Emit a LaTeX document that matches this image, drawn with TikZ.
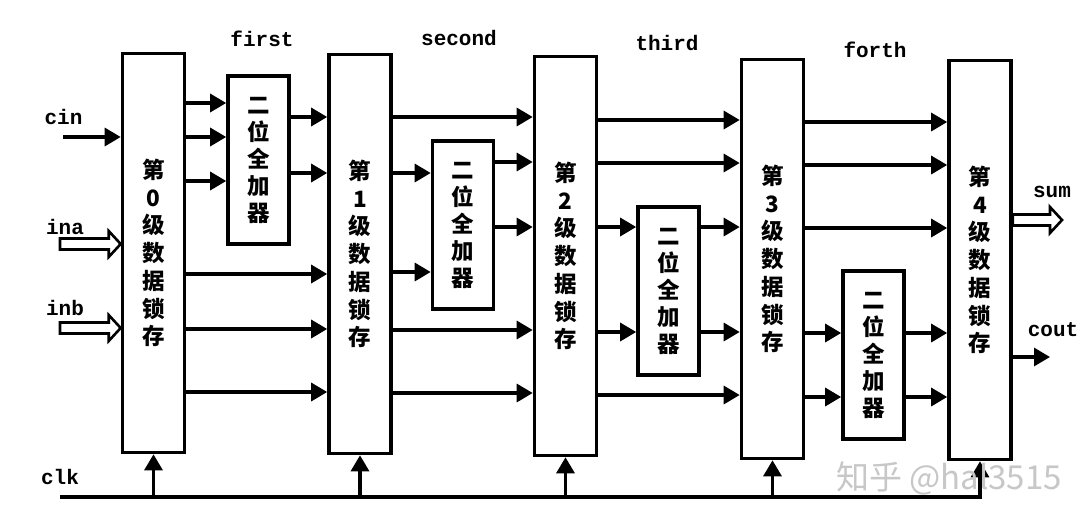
\documentclass[tikz,border=0pt]{standalone}
\usepackage{fontspec}
\newfontfamily\cjk{Noto Sans CJK SC}
\newfontfamily\lab{Liberation Mono}
\usetikzlibrary{arrows.meta,calc}
\begin{document}
\begin{tikzpicture}[x=1pt,y=-1pt,
  line width=3.2pt,
  latch/.style={draw, line width=3.6pt, minimum width=62pt, minimum height=399pt, inner sep=0pt, align=center,
    font=\cjk\bfseries\fontsize{22.5}{27.7}\selectfont},
  adder/.style={draw, line width=3.6pt, minimum width=61pt, minimum height=168pt, inner sep=0pt, align=center,
    font=\cjk\bfseries\fontsize{22.5}{27}\selectfont},
  lbl/.style={font=\lab\bfseries\fontsize{21}{24}\selectfont, inner sep=0pt},
  sig/.style={-{Triangle[length=16pt,width=18pt]}},
  hollow/.style={line width=2.6pt, line join=miter}
]
\useasboundingbox (0,0) rectangle (1092,523);
\fill[white] (0,0) rectangle (1092,523);

% latches
\node[latch] (L0) at (153.5,253) {第\\0\\级\\数\\据\\锁\\存};
\node[latch] (L1) at (360,254) {第\\1\\级\\数\\据\\锁\\存};
\node[latch] (L2) at (565.5,256) {第\\2\\级\\数\\据\\锁\\存};
\node[latch] (L3) at (772.5,259) {第\\3\\级\\数\\据\\锁\\存};
\node[latch] (L4) at (980,260) {第\\4\\级\\数\\据\\锁\\存};

% adders
\node[adder] (A1) at (258.5,160) {二\\位\\全\\加\\器};
\node[adder] (A2) at (463,225) {二\\位\\全\\加\\器};
\node[adder] (A3) at (668.5,291) {二\\位\\全\\加\\器};
\node[adder] (A4) at (873.5,355) {二\\位\\全\\加\\器};

% stage labels
\node[lbl] (first) at (262,39) {first};
\node[lbl] (second) at (459,38) {second};
\node[lbl] (third) at (667,43) {third};
\node[lbl] (forth) at (875,50) {forth};

% stage 0 -> 1
\foreach \y in {103,137,181} \draw[sig] (L0.east |- 0,\y) -- (A1.west |- 0,\y);
\foreach \y in {117,173} \draw[sig] (A1.east |- 0,\y) -- (L1.west |- 0,\y);
\foreach \y in {274,329,392} \draw[sig] (L0.east |- 0,\y) -- (L1.west |- 0,\y);

% stage 1 -> 2
\foreach \y in {117,330,393} \draw[sig] (L1.east |- 0,\y) -- (L2.west |- 0,\y);
\foreach \y in {173,272} \draw[sig] (L1.east |- 0,\y) -- (A2.west |- 0,\y);
\foreach \y in {162,227} \draw[sig] (A2.east |- 0,\y) -- (L2.west |- 0,\y);

% stage 2 -> 3
\foreach \y in {120,163,395} \draw[sig] (L2.east |- 0,\y) -- (L3.west |- 0,\y);
\foreach \y in {227,332} \draw[sig] (L2.east |- 0,\y) -- (A3.west |- 0,\y);
\foreach \y in {227,332} \draw[sig] (A3.east |- 0,\y) -- (L3.west |- 0,\y);

% stage 3 -> 4
\foreach \y in {122,165,228} \draw[sig] (L3.east |- 0,\y) -- (L4.west |- 0,\y);
\foreach \y in {333,397} \draw[sig] (L3.east |- 0,\y) -- (A4.west |- 0,\y);
\foreach \y in {333,397} \draw[sig] (A4.east |- 0,\y) -- (L4.west |- 0,\y);

% inputs
\node[lbl] (cinl) at (63.5,117) {cin};
\node[lbl] (inal) at (65,227) {ina};
\node[lbl] (inbl) at (65,308) {inb};
\node[lbl] (clkl) at (60,477) {clk};
\coordinate (cinS) at (63,137);
\draw[sig] (cinS) -- (L0.west |- cinS);

\coordinate (inaS) at (60,244);
\coordinate (inaE) at (L0.west |- inaS);
\draw[hollow] ($(inaS)+(0,-5.5)$) -- ($(inaE)+(-12,-5.5)$) -- ($(inaE)+(-12,-13)$) -- (inaE)
  -- ($(inaE)+(-12,13)$) -- ($(inaE)+(-12,5.5)$) -- ($(inaS)+(0,5.5)$) -- cycle;
\coordinate (inbS) at (60,328);
\coordinate (inbE) at (L0.west |- inbS);
\draw[hollow] ($(inbS)+(0,-5.5)$) -- ($(inbE)+(-12,-5.5)$) -- ($(inbE)+(-12,-13)$) -- (inbE)
  -- ($(inbE)+(-12,13)$) -- ($(inbE)+(-12,5.5)$) -- ($(inbS)+(0,5.5)$) -- cycle;

% outputs
\node[lbl] (suml) at (1052,192) {sum};
\node[lbl] (coutl) at (1053,330) {cout};
\coordinate (sumE) at (1062,220);
\coordinate (sumS) at (L4.east |- sumE);
\draw[hollow] ($(sumS)+(0,-5.5)$) -- ($(sumE)+(-12,-5.5)$) -- ($(sumE)+(-12,-13)$) -- (sumE)
  -- ($(sumE)+(-12,13)$) -- ($(sumE)+(-12,5.5)$) -- ($(sumS)+(0,5.5)$) -- cycle;
\coordinate (coutE) at (1050,357);
\draw[sig] (L4.east |- coutE) -- (coutE);

% clock
\coordinate (clkS) at (60,497);
\draw[sig] (clkS) -- (L4.south |- clkS) -- (L4.south);
\foreach \n in {L0,L1,L2,L3} \draw[sig] (\n.south |- clkS) -- (\n.south);

% watermark
\node[text=black!22, font=\cjk\fontsize{33}{33}\selectfont, inner sep=0pt] (wm) at (949,478) {知乎 @hal3515};
\end{tikzpicture}
\end{document}
